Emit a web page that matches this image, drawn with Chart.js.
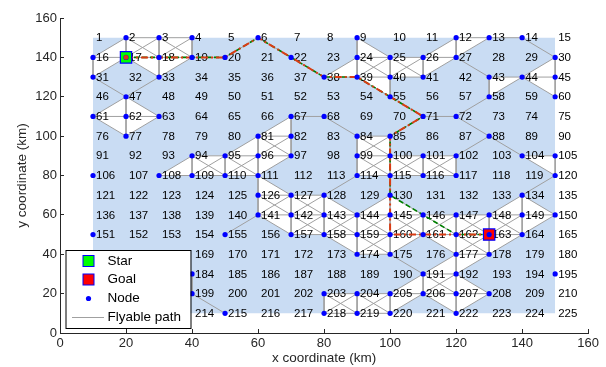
<!DOCTYPE html>
<html>
<head>
<meta charset="utf-8">
<script src="https://cdn.jsdelivr.net/npm/chart.js@4.4.0/dist/chart.umd.min.js"></script>
<style>
html, body { margin: 0; padding: 0; background: #fff; }
</style>
</head>
<body>
<canvas id="graphCanvas" width="606" height="367"></canvas>
<script>
//--------------------- DATA -------------------------
// grid columns / rows of the 15x15 node grid (node 1 = top left)
const gridX = [10, 20, 30, 40, 50, 60, 70, 80, 90, 100, 110, 120, 130, 140, 150];
const gridY = [150, 140, 130, 120, 110, 100, 90, 80, 70, 60, 50, 40, 30, 20, 10];
const nodeCount = 225;
const xTicks = [0, 20, 40, 60, 80, 100, 120, 140, 160];
const yTicks = [0, 20, 40, 60, 80, 100, 120, 140, 160];

// nodes marked with a blue dot
const flyNodes = [
    2, 3, 4, 6, 9, 12, 13, 14,
    16, 17, 18, 19, 20, 22, 24, 25, 26, 27, 30,
    31, 33, 38, 39, 40, 41, 43, 44, 45,
    47, 55, 58, 60,
    61, 62, 63, 67, 68, 71, 72,
    77, 81, 82, 84, 85, 88,
    94, 95, 96, 97, 99, 100, 101, 102, 104, 105,
    106, 108, 109, 110, 111, 114, 115, 116, 117, 120,
    126, 127, 128, 130, 134,
    141, 142, 143, 144, 145, 146, 147, 148, 149, 150,
    151, 155, 157, 158, 159, 160, 161, 162, 163, 164,
    174, 175, 177, 178,
    184, 191, 192, 195,
    199, 203, 204, 205, 206, 207, 208,
    215, 218, 219, 220, 222
];

// fully connected grid cells (top-left node of the square, sides + both diagonals)
const fullCells = [2, 3, 24, 25, 81, 84, 94, 95, 99, 100, 101, 126, 127, 142, 143, 144,
    145, 146, 147, 148, 159, 162, 191, 203, 204];

// other flyable edges
const singleEdges = [
    [2, 16], [16, 17], [16, 31], [17, 31], [17, 33], [18, 33], [19, 33], [19, 20], [31, 47], [33, 47],
    [47, 61], [47, 62], [47, 63], [61, 62], [62, 63], [61, 77], [62, 77], [63, 77],
    [20, 6], [6, 22], [22, 38],
    [9, 24], [9, 25], [24, 38], [38, 39], [39, 55], [40, 55],
    [12, 26], [12, 27], [26, 27], [27, 41], [12, 13], [13, 14], [13, 27], [27, 43],
    [43, 44], [44, 45], [43, 58], [44, 58], [14, 30], [30, 44], [30, 45], [45, 60], [44, 60],
    [55, 71], [71, 72], [58, 72], [72, 88], [71, 85],
    [88, 102], [88, 104], [104, 105], [104, 120], [105, 120],
    [115, 130], [114, 128], [120, 134], [134, 148], [134, 149], [134, 150],
    [67, 68], [67, 81], [67, 82], [68, 84], [81, 95], [94, 108], [108, 109], [97, 111], [111, 126], [111, 127],
    [128, 144], [130, 144], [130, 145], [130, 146],
    [141, 157], [141, 155], [149, 150], [150, 164], [158, 174], [161, 175], [161, 177], [164, 178],
    [175, 191], [177, 191], [177, 192], [178, 192], [192, 208], [207, 208], [206, 222], [207, 222], [208, 222],
    [191, 205], [205, 206], [206, 220], [184, 199], [199, 215]
];

// planned paths
const redPath = [17, 18, 19, 20, 6, 22, 38, 39, 55, 71, 85, 100, 115, 130, 145, 160, 161, 162, 163];
const greenPath = [17, 18, 19, 20, 6, 22, 38, 39, 55, 71, 85, 100, 115, 130, 146, 162, 163];
const startNode = 17;
const goalNode = 163;

const legendLabels = ['Star', 'Goal', 'Node', 'Flyable path'];

//--------------------- HELPERS -------------------------
const FONT = '"Liberation Sans", Arial, sans-serif';
const AXIS = '#262626';
const BG_BLUE = 'rgb(201, 220, 243)';
const RED = 'rgb(217,60,20)';

function nodeX(n) { return gridX[(n - 1) % 15]; }
function nodeY(n) { return gridY[Math.floor((n - 1) / 15)]; }
function pt(n) { return { x: nodeX(n), y: nodeY(n) }; }

// edge list
const edgeKeys = new Set();
const edges = [];
function addEdge(a, b) {
    const k = Math.min(a, b) + '-' + Math.max(a, b);
    if (!edgeKeys.has(k)) { edgeKeys.add(k); edges.push([a, b]); }
}
fullCells.forEach(n => {
    addEdge(n, n + 1); addEdge(n + 15, n + 16); addEdge(n, n + 15);
    addEdge(n + 1, n + 16); addEdge(n, n + 16); addEdge(n + 1, n + 15);
});
singleEdges.forEach(e => addEdge(e[0], e[1]));
function linked(a, b) { return edgeKeys.has(Math.min(a, b) + '-' + Math.max(a, b)); }

// white flyable area: every triangle of mutually linked nodes
const nodesInEdges = [...new Set(edges.flat())].sort((a, b) => a - b);
const triangles = [];
for (let i = 0; i < nodesInEdges.length; i++) {
    for (let j = i + 1; j < nodesInEdges.length; j++) {
        if (!linked(nodesInEdges[i], nodesInEdges[j])) continue;
        for (let k = j + 1; k < nodesInEdges.length; k++) {
            if (linked(nodesInEdges[i], nodesInEdges[k]) && linked(nodesInEdges[j], nodesInEdges[k])) {
                triangles.push([nodesInEdges[i], nodesInEdges[j], nodesInEdges[k]]);
            }
        }
    }
}

const edgeData = [];
edges.forEach(e => { edgeData.push(pt(e[0]), pt(e[1]), { x: null, y: null }); });

//--------------------- DATASETS -------------------------
const datasets = [];

// blue background
datasets.push({
    data: [{ x: gridX[0], y: gridY[0] }, { x: gridX[14], y: gridY[0] }],
    showLine: true, fill: { value: gridY[14] },
    backgroundColor: BG_BLUE, borderColor: 'rgba(0,0,0,0)', borderWidth: 0,
    pointRadius: 0, order: 100
});

// white triangles
triangles.forEach(t => {
    datasets.push({
        data: t.map(pt), showLine: true, fill: 'shape',
        backgroundColor: '#ffffff', borderColor: 'rgba(0,0,0,0)', borderWidth: 0,
        pointRadius: 0, order: 90
    });
});

// gray edges
const edgeIndex = datasets.length;
datasets.push({
    data: edgeData, showLine: true, spanGaps: false,
    borderColor: 'rgb(160,160,160)', borderWidth: 1, pointRadius: 0, order: 80
});

// green path
datasets.push({
    data: greenPath.map(pt), showLine: true, borderColor: 'rgb(0,128,0)',
    borderWidth: 1.6, borderDash: [5, 3], pointRadius: 0, order: 70
});
// red path
datasets.push({
    data: redPath.map(pt), showLine: true, borderColor: RED,
    borderWidth: 2, borderDash: [7, 3, 2, 3], pointRadius: 0, order: 60
});

// start / goal squares
datasets.push({
    data: [pt(startNode)], pointStyle: 'rect', pointRadius: 8,
    backgroundColor: '#00ff00', borderColor: '#0000ff', borderWidth: 1.2, order: 55
});
datasets.push({
    data: [pt(goalNode)], pointStyle: 'rect', pointRadius: 8,
    backgroundColor: '#ff0000', borderColor: '#0000ff', borderWidth: 1.2, order: 55
});

// node dots
datasets.push({
    data: flyNodes.map(pt), pointStyle: 'circle', pointRadius: 2.6,
    backgroundColor: '#0000ff', borderWidth: 0, order: 50
});

// red marker where the red path starts
datasets.push({
    data: [pt(redPath[0])], pointStyle: 'circle', pointRadius: 2.4,
    backgroundColor: RED, borderWidth: 0, order: 45
});

//--------------------- PLUGINS -------------------------
const nodeLabels = {
    id: 'nodeLabels',
    afterDatasetDraw(chart, args) {
        if (args.index !== edgeIndex) return;
        const { ctx, scales: { x, y } } = chart;
        ctx.save();
        ctx.font = '11.5px ' + FONT;
        ctx.fillStyle = '#000';
        ctx.textAlign = 'left';
        ctx.textBaseline = 'middle';
        for (let n = 1; n <= nodeCount; n++) {
            ctx.fillText(String(n), x.getPixelForValue(nodeX(n)) + 3, y.getPixelForValue(nodeY(n)) + 0.5);
        }
        ctx.restore();
    }
};

const boxLegend = {
    id: 'boxLegend',
    afterDraw(chart) {
        const ctx = chart.ctx;
        const L = 65.5, T = 250, W = 125, H = 78;
        ctx.save();
        ctx.fillStyle = '#fff';
        ctx.fillRect(L, T, W, H);
        ctx.strokeStyle = '#000';
        ctx.lineWidth = 1;
        ctx.strokeRect(L + 0.5, T + 0.5, W, H);
        const rowY = [261, 279.5, 298.5, 317];
        // star
        ctx.fillStyle = '#00ff00'; ctx.strokeStyle = '#0000ff';
        ctx.fillRect(83, rowY[0] - 5.5, 11, 11); ctx.strokeRect(83, rowY[0] - 5.5, 11, 11);
        // goal
        ctx.fillStyle = '#ff0000';
        ctx.fillRect(83, rowY[1] - 5.5, 11, 11); ctx.strokeRect(83, rowY[1] - 5.5, 11, 11);
        // node
        ctx.fillStyle = '#0000ff';
        ctx.beginPath(); ctx.arc(88.5, rowY[2], 2.6, 0, Math.PI * 2); ctx.fill();
        // path
        ctx.strokeStyle = 'rgb(160,160,160)';
        ctx.beginPath(); ctx.moveTo(72, rowY[3] + 0.5); ctx.lineTo(104, rowY[3] + 0.5); ctx.stroke();
        ctx.fillStyle = '#000';
        ctx.font = '13.5px ' + FONT;
        ctx.textBaseline = 'middle';
        legendLabels.forEach((t, i) => ctx.fillText(t, 107.5, rowY[i]));
        ctx.restore();
    }
};

//--------------------- CONFIG -------------------------
const config = {
    type: 'scatter',
    data: { datasets },
    options: {
        responsive: false,
        animation: false,
        devicePixelRatio: 1,
        layout: { padding: { left: 0, right: 17, top: 18, bottom: 0 } },
        plugins: { legend: { display: false }, tooltip: { enabled: false } },
        scales: {
            x: {
                type: 'linear', min: 0, max: 160,
                afterBuildTicks: s => { s.ticks = xTicks.map(v => ({ value: v })); },
                afterFit: s => { s.height = 34; },
                grid: { drawOnChartArea: false, drawTicks: true, tickLength: -4, color: AXIS },
                border: { display: true, color: AXIS, width: 1 },
                ticks: { color: AXIS, font: { size: 13, family: FONT }, padding: 7, maxRotation: 0 },
                title: { display: true, text: 'x coordinate (km)', color: AXIS,
                    font: { size: 13.5, family: FONT }, padding: { top: 0, bottom: 1 } }
            },
            y: {
                type: 'linear', min: 0, max: 160,
                afterBuildTicks: s => { s.ticks = yTicks.map(v => ({ value: v })); },
                afterFit: s => { s.width = 60; },
                grid: { drawOnChartArea: false, drawTicks: true, tickLength: -4, color: AXIS },
                border: { display: true, color: AXIS, width: 1 },
                ticks: { color: AXIS, font: { size: 13, family: FONT }, padding: 7 },
                title: { display: true, text: 'y coordinate (km)', color: AXIS,
                    font: { size: 13.5, family: FONT }, padding: { top: 14, bottom: 0 } }
            }
        }
    },
    plugins: [nodeLabels, boxLegend]
};

// RENDER
const graphCanvas = new Chart(document.getElementById('graphCanvas').getContext('2d'), config);
</script>
</body>
</html>
